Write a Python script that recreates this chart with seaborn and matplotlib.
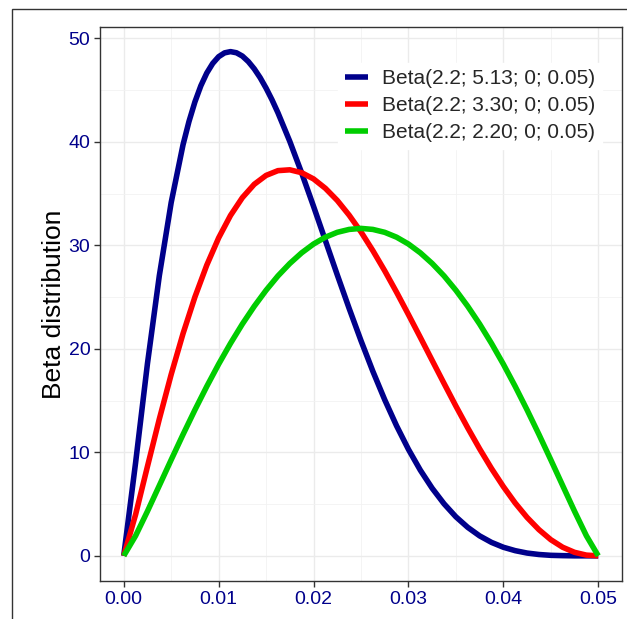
import matplotlib
matplotlib.use('Agg')
import matplotlib.pyplot as plt
from matplotlib.patches import Rectangle
from matplotlib.ticker import MultipleLocator, FormatStrFormatter
import pandas as pd
import seaborn as sns

# x grid read along the axis (0 .. 0.05)
x = [0.0, 0.00125, 0.0025, 0.00375, 0.005, 0.00625, 0.0075, 0.00875, 0.01, 0.01125,
     0.0125, 0.01375, 0.015, 0.01625, 0.0175, 0.01875, 0.02, 0.02125, 0.0225, 0.02375,
     0.025, 0.02625, 0.0275, 0.02875, 0.03, 0.03125, 0.0325, 0.03375, 0.035, 0.03625,
     0.0375, 0.03875, 0.04, 0.04125, 0.0425, 0.04375, 0.045, 0.04625, 0.0475, 0.04875, 0.05]

# blue curve read a bit more densely around its peak
x_513 = [0.0, 0.00125, 0.0025, 0.00375, 0.005, 0.00625, 0.006875, 0.0075, 0.008125,
         0.00875, 0.009375, 0.01, 0.010625, 0.01125, 0.011875, 0.0125, 0.013125,
         0.01375, 0.014375, 0.015, 0.015625, 0.01625, 0.0175, 0.01875, 0.02, 0.02125,
         0.0225, 0.02375, 0.025, 0.02625, 0.0275, 0.02875, 0.03, 0.03125, 0.0325,
         0.03375, 0.035, 0.03625, 0.0375, 0.03875, 0.04, 0.04125, 0.0425, 0.04375,
         0.045, 0.04625, 0.0475, 0.04875, 0.05]
beta_513 = [0, 9.00, 18.58, 27.07, 34.14, 39.73, 41.97, 43.86, 45.42,
            46.65, 47.58, 48.23, 48.60, 48.72, 48.61, 48.29, 47.76,
            47.06, 46.20, 45.19, 44.06, 42.81, 40.04, 36.99, 33.77, 30.46,
            27.15, 23.91, 20.79, 17.83, 15.08, 12.56, 10.29, 8.28, 6.53,
            5.03, 3.77, 2.75, 1.93, 1.30, 0.83, 0.50, 0.27, 0.13,
            0.05, 0.02, 0.00, 0.00, 0]
beta_330 = [0, 3.99, 8.64, 13.22, 17.53, 21.48, 25.01, 28.09, 30.72, 32.89,
            34.61, 35.90, 36.76, 37.22, 37.30, 37.02, 36.42, 35.51, 34.34, 32.92,
            31.30, 29.49, 27.54, 25.47, 23.31, 21.11, 18.88, 16.66, 14.47, 12.36,
            10.34, 8.44, 6.69, 5.10, 3.71, 2.53, 1.56, 0.83, 0.34, 0.07, 0]
beta_220 = [0, 1.94, 4.31, 6.79, 9.28, 11.73, 14.10, 16.37, 18.52, 20.53,
            22.40, 24.11, 25.66, 27.05, 28.25, 29.28, 30.13, 30.79, 31.26, 31.54,
            31.64, 31.54, 31.26, 30.79, 30.13, 29.28, 28.25, 27.05, 25.66, 24.11,
            22.40, 20.53, 18.52, 16.37, 14.10, 11.73, 9.28, 6.79, 4.31, 1.94, 0]

labels = ['Beta(2.2; 5.13; 0; 0.05)', 'Beta(2.2; 3.30; 0; 0.05)', 'Beta(2.2; 2.20; 0; 0.05)']
colors = ['#00008B', '#FF0000', '#00CD00']

df = pd.concat([
    pd.DataFrame({'x': x_513, 'y': beta_513, 'dist': labels[0]}),
    pd.DataFrame({'x': x, 'y': beta_330, 'dist': labels[1]}),
    pd.DataFrame({'x': x, 'y': beta_220, 'dist': labels[2]}),
])

sns.set_theme(style='white')
plt.rcParams['font.family'] = ['Liberation Sans', 'DejaVu Sans']

fig = plt.figure(figsize=(6.27, 6.19), dpi=100)
ax = fig.add_axes([0.1595, 0.0614, 0.8325, 0.8950])

sns.lineplot(data=df, x='x', y='y', hue='dist', palette=colors, hue_order=labels,
             estimator=None, sort=False, linewidth=4, ax=ax,
             solid_joinstyle='round', solid_capstyle='butt')

ax.set_xlim(-0.0025, 0.0525)
ax.set_ylim(-2.43, 51.1)
ax.xaxis.set_major_locator(MultipleLocator(0.01))
ax.xaxis.set_minor_locator(MultipleLocator(0.005))
ax.yaxis.set_major_locator(MultipleLocator(10))
ax.yaxis.set_minor_locator(MultipleLocator(5))
ax.xaxis.set_major_formatter(FormatStrFormatter('%.2f'))
ax.grid(which='major', color='#EBEBEB', linewidth=1.0)
ax.grid(which='minor', color='#F2F2F2', linewidth=0.6)
ax.set_axisbelow(True)
for s in ax.spines.values():
    s.set_color('#333333')
    s.set_linewidth(1.0)
ax.tick_params(axis='both', which='major', direction='out', length=4, width=1,
               color='#333333', labelcolor='darkblue', labelsize=14, pad=3,
               bottom=True, left=True)
ax.tick_params(which='minor', length=0)
ax.set_xlabel('')
ax.set_ylabel('Beta distribution', fontsize=19, color='black', labelpad=2)

leg = ax.legend(loc='center', bbox_to_anchor=(0.709, 0.858), frameon=True,
                fontsize=15, handlelength=1.1, handletextpad=0.7,
                labelspacing=0.4, borderpad=0.3, borderaxespad=0)
leg.get_frame().set_edgecolor('white')
leg.get_frame().set_facecolor('white')
leg.get_frame().set_alpha(1)
leg.get_frame().set_boxstyle('square', pad=0)
for line in leg.get_lines():
    line.set_linewidth(4)

fig.add_artist(Rectangle((12 / 627, -0.1), 1.2, 1 - 9 / 619 + 0.1, fill=False,
                         transform=fig.transFigure, edgecolor='#333333', linewidth=1.0))

fig.savefig('out.png', dpi=100)
